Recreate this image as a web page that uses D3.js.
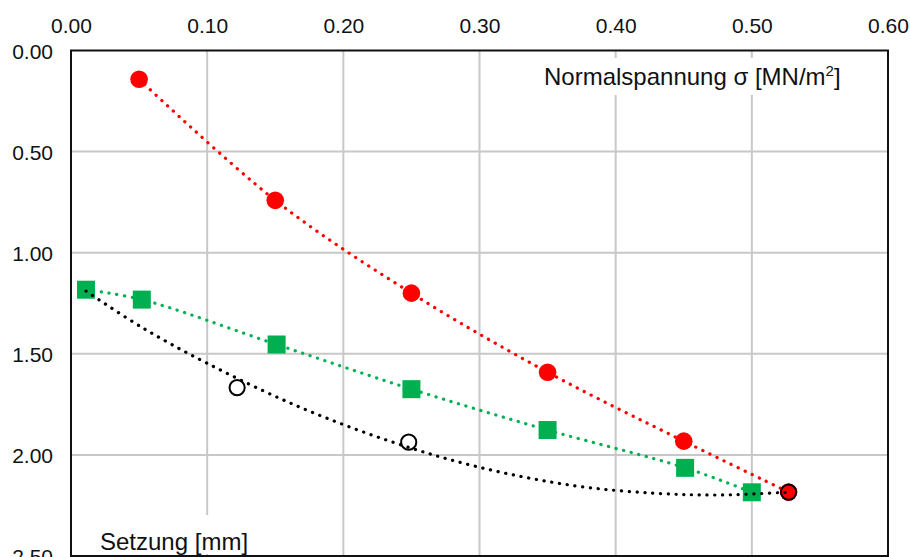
<!DOCTYPE html>
<html>
<head>
<meta charset="utf-8">
<script src="https://cdn.jsdelivr.net/npm/d3@7"></script>
<style>
  body { margin: 0; background: #fff; }
  svg text { font-family: "Liberation Sans", Arial, sans-serif; fill: #111; }
</style>
</head>
<body>
<script>
// tick values
var xTicks = [0, 0.1, 0.2, 0.3, 0.4, 0.5, 0.6];
var yTicks = [0, 0.5, 1.0, 1.5, 2.0, 2.5];

// red series (filled circles)
var redX = [0.05, 0.15, 0.25, 0.35, 0.45, 0.527];
var redY = [0.142, 0.741, 1.20, 1.591, 1.932, 2.184];

// green series (squares)
var greenX = [0.011, 0.052, 0.151, 0.25, 0.35, 0.451, 0.50];
var greenY = [1.183, 1.232, 1.454, 1.675, 1.877, 2.064, 2.185];

// black trend curve and the open circle markers
var blackX = [0.011, 0.052, 0.100, 0.166, 0.234, 0.298, 0.369, 0.430, 0.478, 0.527];
var blackY = [1.190, 1.369, 1.547, 1.758, 1.932, 2.058, 2.152, 2.190, 2.198, 2.184];
var blackMarkX = [0.122, 0.248, 0.527];
var blackMarkY = [1.667, 1.937, 2.184];

var xLabel = "Normalspannung σ [MN/m";
var yLabel = "Setzung [mm]";

function draw_chart() {
  var size = ({ width: 910, height: 557 });
  var plot = ({ left: 71, right: 888, top: 50.5, bottom: 556 });

  var svg = d3.select("body").append("svg")
              .attr("width", size.width)
              .attr("height", size.height)
              ;

  var x = d3.scaleLinear().domain([0, 0.6]).range([plot.left, plot.right]);
  var y = d3.scaleLinear().domain([0, 2.5]).range([plot.top, plot.bottom]);

  // grid
  svg.append("g").selectAll("line")
     .data(xTicks.slice(1, -1))
     .enter().append("line")
     .attr("x1", (d) => x(d)).attr("x2", (d) => x(d))
     .attr("y1", plot.top).attr("y2", plot.bottom)
     .attr("stroke", "#c8c8c8").attr("stroke-width", 2);

  svg.append("g").selectAll("line")
     .data(yTicks.slice(1, -1))
     .enter().append("line")
     .attr("y1", (d) => y(d)).attr("y2", (d) => y(d))
     .attr("x1", plot.left).attr("x2", plot.right)
     .attr("stroke", "#c8c8c8").attr("stroke-width", 2);

  // axes (labels only, no tick marks)
  var xAxis = svg.append("g")
     .attr("transform", "translate(0," + (plot.top - 18) + ")")
     .call(d3.axisTop(x).tickValues(xTicks).tickFormat(d3.format(".2f")).tickSize(0).tickPadding(0));
  var yAxis = svg.append("g")
     .attr("transform", "translate(" + (plot.left - 18) + ",0)")
     .call(d3.axisLeft(y).tickValues(yTicks).tickFormat(d3.format(".2f")).tickSize(0).tickPadding(0));
  [xAxis, yAxis].forEach((g) => {
    g.select(".domain").remove();
    g.selectAll("text").style("font-size", "21px").attr("fill", "#111");
  });
  yAxis.selectAll("text").attr("dy", "0.36em");

  // axis title boxes
  var t1 = svg.append("g");
  t1.append("rect").attr("x", 540).attr("y", 58).attr("width", 306).attr("height", 37).attr("fill", "#fff");
  var tx = t1.append("text").attr("x", 544).attr("y", 85).style("font-size", "24px").text(xLabel);
  tx.append("tspan").attr("dy", -9).style("font-size", "15px").text("2");
  tx.append("tspan").attr("dy", 9).text("]");

  var t2 = svg.append("g");
  t2.append("rect").attr("x", 95).attr("y", 515).attr("width", 158).attr("height", 39).attr("fill", "#fff");
  t2.append("text").attr("x", 100).attr("y", 550).style("font-size", "24px").text(yLabel);

  // plot border
  svg.append("rect")
     .attr("x", plot.left).attr("y", plot.top)
     .attr("width", plot.right - plot.left).attr("height", plot.bottom - plot.top)
     .attr("fill", "none").attr("stroke", "#111").attr("stroke-width", 2);

  var line = d3.line().x((d) => x(d[0])).y((d) => y(d[1])).curve(d3.curveCatmullRom.alpha(0.5));

  function dotted(pts, color) {
    svg.append("path")
       .attr("d", line(pts))
       .attr("fill", "none")
       .attr("stroke", color)
       .attr("stroke-width", 3.2)
       .attr("stroke-linecap", "round")
       .attr("stroke-dasharray", "0.2 7.6");
  }

  // red
  var red = d3.zip(redX, redY);
  dotted(red, "#ff0000");
  svg.append("g").selectAll("circle").data(red).enter().append("circle")
     .attr("cx", (d) => x(d[0])).attr("cy", (d) => y(d[1])).attr("r", 8.8)
     .attr("fill", "#ff0000");

  // green
  var green = d3.zip(greenX, greenY);
  dotted(green, "#00b050");
  svg.append("g").selectAll("rect").data(green).enter().append("rect")
     .attr("x", (d) => x(d[0]) - 9).attr("y", (d) => y(d[1]) - 9)
     .attr("width", 18).attr("height", 18)
     .attr("fill", "#00b050");

  // black
  dotted(d3.zip(blackX, blackY), "#000");
  svg.append("g").selectAll("circle").data(d3.zip(blackMarkX, blackMarkY)).enter().append("circle")
     .attr("cx", (d) => x(d[0])).attr("cy", (d) => y(d[1])).attr("r", 7.6)
     .attr("fill", "none").attr("stroke", "#000").attr("stroke-width", 2);
}

draw_chart();
</script>
</body>
</html>
